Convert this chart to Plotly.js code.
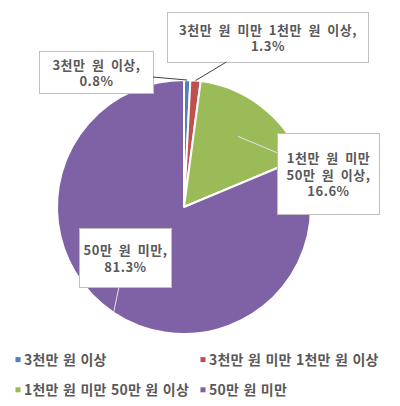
<!DOCTYPE html>
<html>
<head>
<meta charset="utf-8">
<script src="https://cdn.plot.ly/plotly-3.0.1.min.js"></script>
<style>
  html, body { margin: 0; padding: 0; background: #fff; }
  #chart { width: 400px; height: 406px; }
  #chart .legendtext { letter-spacing: 0.2px; word-spacing: 1px; }
  #chart .annotation-text { letter-spacing: 0.5px; word-spacing: 3px; }
</style>
</head>
<body>
<div id="chart"></div>
<script>
// 소득 구간별 비율 (%)
const categories = ['3천만 원 이상', '3천만 원 미만 1천만 원 이상', '1천만 원 미만 50만 원 이상', '50만 원 미만'];
const shares = [0.8, 1.3, 16.6, 81.3];
const boxLabels = ['3천만 원 이상,<br>0.8%', '3천만 원 미만 1천만 원 이상,<br>1.3%', '1천만 원 미만<br>50만 원 이상,<br>16.6%', '50만 원 미만,<br>81.3%'];
const colors = ['#4F81BD', '#C0504D', '#9BBB59', '#7F62A6'];

const W = 400, H = 406;
const cx = 184, cy = 207, R = 127;

// callout boxes: centre (px), size (px), leader anchor radius, leader colour
const boxes = [
  { x: 96, y: 72, w: 113, h: 41, r: 1.0, line: '#404040' },
  { x: 268, y: 37, w: 200, h: 49, r: 1.0, line: '#404040' },
  { x: 328, y: 174, w: 101, h: 80, r: 0.7, line: '#E6E0EE' },
  { x: 125, y: 258, w: 91, h: 58, r: 1.0, line: '#E6E0EE' },
];

const total = shares.reduce((a, b) => a + b, 0);
let cum = 0;
const annotations = shares.map((v, i) => {
  const mid = (cum + v / 2) / total * 2 * Math.PI;
  cum += v;
  const b = boxes[i];
  const px = cx + b.r * R * Math.sin(mid);
  const py = cy - b.r * R * Math.cos(mid);
  return {
    xref: 'paper', yref: 'paper',
    x: px / W, y: 1 - py / H,
    ax: b.x - px, ay: b.y - py,
    text: boxLabels[i],
    showarrow: true,
    arrowhead: 0,
    arrowwidth: 1,
    arrowcolor: b.line,
    standoff: 0,
    startstandoff: 0,
    width: b.w,
    height: b.h,
    align: 'center',
    valign: 'middle',
    bgcolor: '#FFFFFF',
    bordercolor: '#BFBFBF',
    borderwidth: 1,
    borderpad: 0,
    font: { family: '"Noto Sans CJK KR", sans-serif', size: 13, color: '#595959', weight: 'bold' },
  };
});

const data = [{
  type: 'pie',
  labels: categories,
  values: shares,
  sort: false,
  direction: 'clockwise',
  rotation: 0,
  textinfo: 'none',
  hoverinfo: 'label+percent',
  marker: { colors: colors, line: { color: '#FFFFFF', width: 2 } },
  domain: { x: [(cx - R) / W, (cx + R) / W], y: [1 - (cy + R) / H, 1 - (cy - R) / H] },
}];

const layout = {
  width: W,
  height: H,
  margin: { l: 0, r: 0, t: 0, b: 0, autoexpand: false },
  paper_bgcolor: '#FFFFFF',
  showlegend: true,
  legend: {
    orientation: 'h',
    x: 0,
    xanchor: 'left',
    y: 1 - 344 / H,
    yanchor: 'top',
    entrywidth: 140,
    font: { family: '"Noto Sans CJK KR", sans-serif', size: 14, color: '#595959', weight: 'bold' },
  },
  annotations: annotations,
};

const TR = /translate\(([^,]+),\s*([^)]+)\)/;

Plotly.newPlot('chart', data, layout, { displayModeBar: false, staticPlot: true }).then(gd => {
  const leg = gd.querySelector('.legend');
  // let long entries run past the entry width, like Excel
  leg.querySelectorAll('[clip-path]').forEach(el => el.removeAttribute('clip-path'));
  // pull the legend toward the left edge
  const lm = TR.exec(leg.getAttribute('transform'));
  if (lm) leg.setAttribute('transform', `translate(${+lm[1] - 16},${lm[2]})`);
  // Excel-style tiny legend markers sitting close to the text
  leg.querySelectorAll('.legendpoints path').forEach(p => {
    p.setAttribute('transform', 'translate(34,0) scale(0.42)');
    p.style.strokeWidth = '0';
  });
  // a little more room between legend rows
  const items = Array.from(leg.querySelectorAll('.traces'));
  const ys = items.map(t => { const m = TR.exec(t.getAttribute('transform')); return m ? +m[2] : 0; });
  const y0 = Math.min(...ys);
  items.forEach((t, i) => {
    const m = TR.exec(t.getAttribute('transform'));
    if (m && ys[i] > y0 + 1) t.setAttribute('transform', `translate(${m[1]},${ys[i] + 9})`);
  });
});
</script>
</body>
</html>
